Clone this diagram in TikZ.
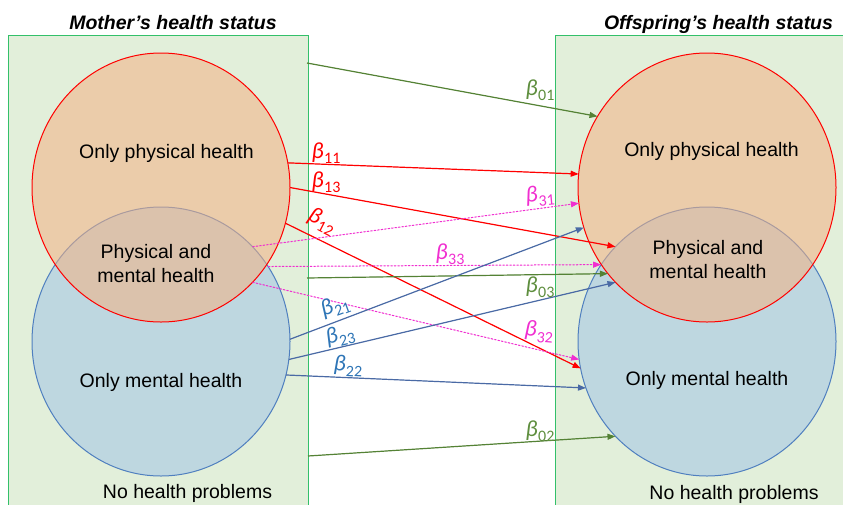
\documentclass[tikz,border=0pt]{standalone}
\usepackage{fontspec}
\setmainfont{Liberation Sans}
\newfontfamily\calib{Carlito}
\usetikzlibrary{arrows.meta,shapes.geometric}
\definecolor{boxfill}{HTML}{E2EFDA}
\definecolor{boxline}{HTML}{33C06A}
\definecolor{orfill}{HTML}{F4B183}
\definecolor{blfill}{HTML}{BED7E0}
\definecolor{blline}{HTML}{4F7FBF}
\definecolor{redc}{HTML}{FF0000}
\definecolor{magc}{HTML}{F02FD0}
\definecolor{bluel}{HTML}{4A6AA5}
\definecolor{bluet}{HTML}{2E75B6}
\definecolor{greenl}{HTML}{548235}
\definecolor{greent}{HTML}{5E8E3E}
\newcommand\bl[1]{{\itshape β}\kern0.5pt\raisebox{-0.22em}{\fontsize{16}{16}\selectfont #1}}
\begin{document}
\begin{tikzpicture}[x=1pt,y=-1pt,
  statebox/.style={fill=boxfill,draw=boxline,line width=1pt},
  venn/.style={ellipse,inner sep=0pt,outer sep=0pt,line width=1pt,minimum width=258pt,minimum height=269pt},
  title/.style={font=\fontsize{19.5}{23}\selectfont\bfseries\itshape,inner sep=0pt},
  txt/.style={font=\fontsize{19.5}{24}\selectfont,align=center,inner sep=0pt},
  lab/.style={font=\calib\fontsize{23}{23}\selectfont,inner sep=0pt},
  tip/.style={-{Triangle[length=8pt,width=6pt]},line width=1.2pt},
  redarr/.style={tip,draw=redc,fill=redc},
  magarr/.style={tip,draw=magc,fill=magc,dash pattern=on 2pt off 1.5pt,line width=1pt},
  bluearr/.style={tip,draw=bluel,fill=bluel},
  greenarr/.style={tip,draw=greenl,fill=greenl}]
\useasboundingbox (0,0) rectangle (843,504);
\clip (0,0) rectangle (843,504);
% boxes
\path[statebox] (8,35) rectangle (308,515);
\path[statebox] (555,35) rectangle (855,515);
\node[title,anchor=base] (tm) at (173,29) {Mother’s health status};
\node[title,anchor=base] (to) at (718.5,29) {Offspring’s health status};
% circles
\node[venn,fill=blfill,draw=blline] (LB) at (161,341.5) {};
\node[venn,fill=blfill,draw=blline] (RB) at (707,341.5) {};
\node[venn,fill=orfill,fill opacity=0.55,draw=redc] (LT) at (161,187.5) {};
\node[venn,fill=orfill,fill opacity=0.55,draw=redc] (RT) at (707,187.5) {};
% texts
\node[txt] (l1) at (166.5,153) {Only physical health};
\node[txt] (l2) at (156,264) {Physical and\\mental health};
\node[txt] (l3) at (161,382) {Only mental health};
\node[txt] (l4) at (187.5,493) {No health problems};
\node[txt] (r1) at (711.5,151) {Only physical health};
\node[txt] (r2) at (708,259.5) {Physical and\\mental health};
\node[txt] (r3) at (707,380) {Only mental health};
\node[txt] (r4) at (734,494) {No health problems};
% free ends at the box edge
\coordinate (g1) at (307,63);
\coordinate (g3) at (307,278);
\coordinate (g2) at (308,456);
% arrows
\draw[greenarr] (g1) -- (RT.147);
\draw[redarr] (LT.11) -- (RT.174);
\draw[redarr] (LT.0) -- (RB.134);
\draw[redarr] (LT.-16) -- (RB.192);
\draw[magarr] (LB.46) -- (RT.187);
\draw[magarr] (LB.35) -- (RB.144);
\draw[magarr] (LT.-46) -- (RB.188);
\draw[greenarr] (g3) -- (RT.221);
\draw[bluearr] (LB.1) -- (RT.198);
\draw[bluearr] (LB.-8) -- (RT.226);
\draw[bluearr] (LB.-15) -- (RB.201);
\draw[greenarr] (g2) -- (RB.226);
% labels
\node[lab,text=greent] (b01) at (540,90) {\bl{01}};
\node[lab,text=redc] (b11) at (326,153) {\bl{11}};
\node[lab,text=redc] (b13) at (326,182) {\bl{13}};
\node[lab,text=redc,rotate=-27] (b12) at (322,221) {\bl{12}};
\node[lab,text=magc,rotate=5] (b31) at (540,196) {\bl{31}};
\node[lab,text=magc] (b33) at (450,254) {\bl{33}};
\node[lab,text=greent] (b03) at (540,287) {\bl{03}};
\node[lab,text=magc,rotate=-5] (b32) at (539,332) {\bl{32}};
\node[lab,text=bluet,rotate=20] (b21) at (335,306.5) {\bl{21}};
\node[lab,text=bluet,rotate=14] (b23) at (340,336) {\bl{23}};
\node[lab,text=bluet,rotate=-3] (b22) at (348,366) {\bl{22}};
\node[lab,text=greent] (b02) at (540,431) {\bl{02}};
\end{tikzpicture}
\end{document}
